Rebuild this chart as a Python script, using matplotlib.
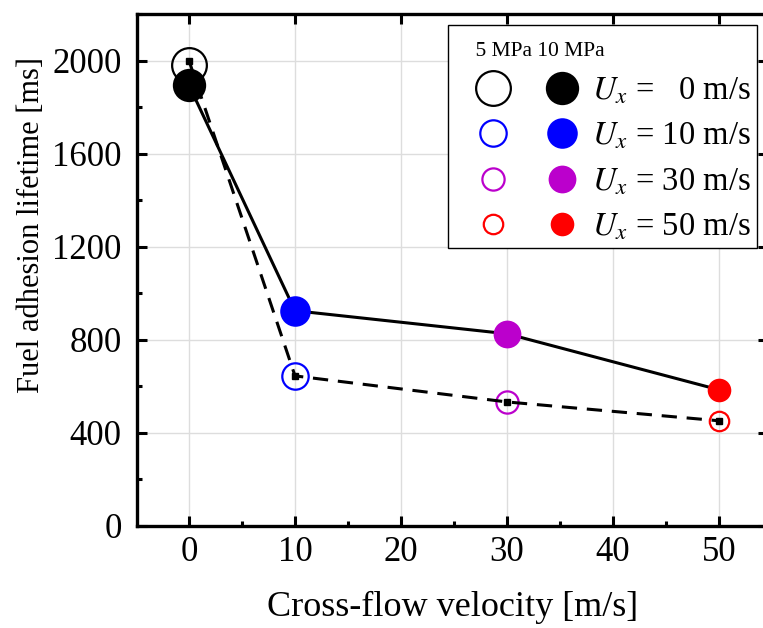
import matplotlib
matplotlib.use("Agg")
import matplotlib.pyplot as plt
from matplotlib.legend_handler import HandlerBase
from matplotlib.lines import Line2D
from matplotlib.ticker import MultipleLocator

plt.rcParams["font.family"] = ["Liberation Serif", "DejaVu Serif"]
plt.rcParams["mathtext.fontset"] = "stix"

# data
velocity = [0, 10, 30, 50]
life_10mpa = [1894, 925, 826, 585]
life_5mpa_line = [2000, 645, 533, 452]
life_5mpa_mark = [1980, 645, 533, 452]
colors = ["black", "blue", "#bb00cc", "red"]
size_hollow = [25, 19, 16, 14]
size_filled = [24, 22, 20, 17]
labels = [r"$U_x$ =   0 m/s", r"$U_x$ = 10 m/s", r"$U_x$ = 30 m/s", r"$U_x$ = 50 m/s"]


class PairHandler(HandlerBase):
    """Hollow (5 MPa) and filled (10 MPa) marker side by side in one legend row."""
    spots = (0.29, 0.80)

    def create_artists(self, legend, orig_handle, xdescent, ydescent, width,
                       height, fontsize, trans):
        out = []
        for h, fx in zip(orig_handle, self.spots):
            m = Line2D([], [])
            m.update_from(h)
            m.set_data([fx * width - xdescent], [height / 2 - ydescent])
            m.set_transform(trans)
            out.append(m)
        return out


fig = plt.figure(figsize=(7.63, 6.28), dpi=100)
ax = fig.add_axes([137 / 763, 102 / 628, 631 / 763, 512 / 628])

ax.plot(velocity, life_5mpa_line, ls=(0, (5, 3.2)), color="black", lw=2.2,
        marker="s", ms=4, zorder=3)
ax.plot(velocity, life_10mpa, ls="-", color="black", lw=2.2, zorder=3)

handles = []
for v, h5, h10, c, sh, sf in zip(velocity, life_5mpa_mark, life_10mpa, colors,
                                 size_hollow, size_filled):
    hollow, = ax.plot([v], [h5], ls="none", marker="o", ms=sh, mfc="none",
                      mec=c, mew=1.6, zorder=2)
    filled, = ax.plot([v], [h10], ls="none", marker="o", ms=sf, mfc=c,
                      mec=c, mew=0, zorder=4)
    handles.append((hollow, filled))

ax.set_xlim(-4.9, 54.6)
ax.set_ylim(0, 2200)
ax.xaxis.set_major_locator(MultipleLocator(10))
ax.xaxis.set_minor_locator(MultipleLocator(5))
ax.yaxis.set_major_locator(MultipleLocator(400))
ax.yaxis.set_minor_locator(MultipleLocator(200))
ax.tick_params(which="both", direction="in", top=True, right=True, width=2.2,
               labelsize=25)
ax.tick_params(which="major", length=7)
ax.tick_params(axis="y", which="major", pad=11)
ax.tick_params(axis="x", which="major", pad=7)
ax.tick_params(which="minor", length=3.5, top=False, right=False)
for s in ax.spines.values():
    s.set_linewidth(2.4)
ax.grid(True, which="major", color="#dddddd", lw=1)
ax.set_axisbelow(True)

ax.set_xlabel("Cross-flow velocity [m/s]", fontsize=26, labelpad=16)
ax.set_ylabel("Fuel adhesion lifetime [ms]", fontsize=22)
ax.yaxis.set_label_coords(-0.144, 0.588)

leg = ax.legend(handles, labels, handler_map={tuple: PairHandler()},
                loc="upper right", bbox_to_anchor=(0.982, 0.978), borderaxespad=0,
                fontsize=23.5, title="\n    5 MPa 10 MPa", title_fontsize=15.5,
                alignment="left", handlelength=4.14, handletextpad=0.1,
                labelspacing=0.45, borderpad=0.18, fancybox=False, framealpha=1,
                edgecolor="black")
leg.get_title().set_linespacing(0.45)
leg.get_frame().set_linewidth(1.0)
leg.set_zorder(5)

fig.savefig("out.png", dpi=100)
